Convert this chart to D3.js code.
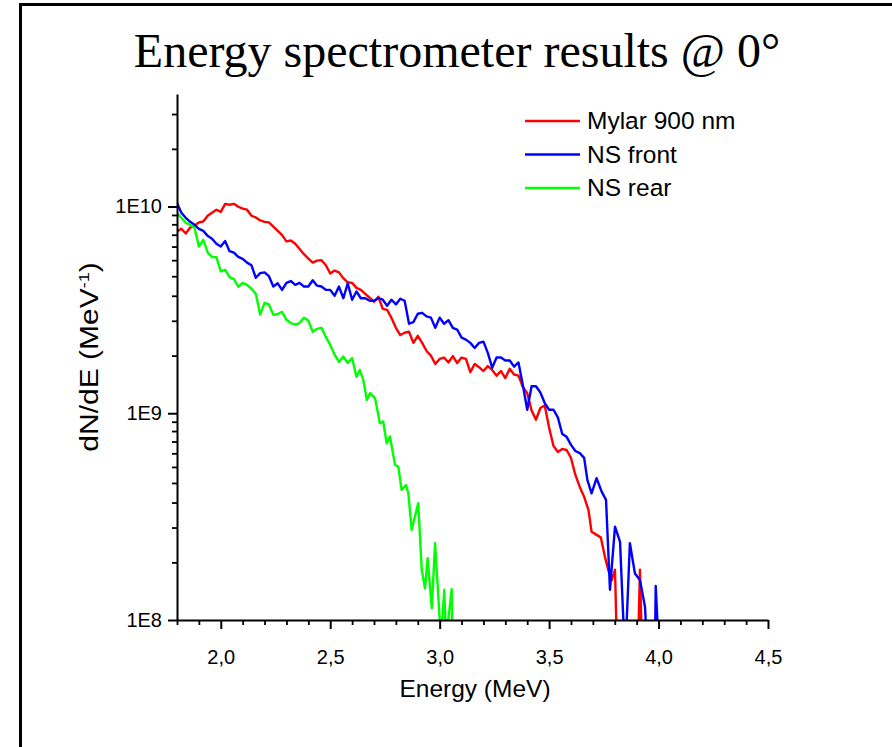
<!DOCTYPE html>
<html>
<head>
<meta charset="utf-8">
<script src="https://cdn.jsdelivr.net/npm/d3@7"></script>
<style>
  html, body { margin: 0; padding: 0; background: #fff; }
  #chart { width: 892px; height: 747px; }
  text { font-family: "Liberation Sans", Arial, sans-serif; fill: #000; }
</style>
</head>
<body>
<div id="chart"></div>
<script>
// [energy MeV, dN/dE in units of 1E9 MeV^-1]; 0.08 = below the 1E8 axis floor
const mylar = [
  [1.80, 7.57], [1.82, 7.80], [1.84, 7.40], [1.86, 7.91], [1.88, 8.07], [1.90, 8.38],
  [1.92, 8.46], [1.94, 9.02], [1.96, 9.32], [1.98, 9.64], [2.00, 9.42], [2.02, 10.3],
  [2.04, 10.2], [2.06, 10.3], [2.08, 9.97], [2.10, 9.76], [2.12, 9.65], [2.14, 9.02],
  [2.16, 8.85], [2.18, 8.56], [2.20, 8.43], [2.22, 8.38], [2.24, 8.00], [2.26, 7.63],
  [2.28, 7.27], [2.30, 6.78], [2.32, 6.85], [2.34, 6.60], [2.36, 6.23], [2.38, 5.88],
  [2.40, 5.60], [2.42, 5.35], [2.44, 5.47], [2.46, 5.50], [2.48, 5.20], [2.50, 4.74],
  [2.52, 4.90], [2.54, 4.80], [2.56, 4.50], [2.58, 4.30], [2.60, 4.27], [2.62, 4.04],
  [2.64, 3.95], [2.66, 3.78], [2.68, 3.62], [2.70, 3.46], [2.72, 3.66], [2.74, 3.20],
  [2.76, 3.16], [2.78, 2.89], [2.80, 2.59], [2.82, 2.39], [2.84, 2.45], [2.86, 2.48],
  [2.88, 2.19], [2.90, 2.37], [2.92, 2.19], [2.94, 2.00], [2.96, 1.90], [2.98, 1.73],
  [3.00, 1.83], [3.02, 1.86], [3.04, 1.76], [3.06, 1.89], [3.08, 1.75], [3.10, 1.86],
  [3.12, 1.83], [3.14, 1.58], [3.16, 1.73], [3.18, 1.67], [3.20, 1.60], [3.22, 1.69],
  [3.24, 1.62], [3.26, 1.52], [3.28, 1.60], [3.30, 1.48], [3.32, 1.64], [3.34, 1.54],
  [3.36, 1.52], [3.38, 1.34], [3.40, 1.25], [3.42, 1.03], [3.44, 0.93], [3.46, 1.06],
  [3.48, 1.09], [3.50, 0.85], [3.52, 0.695], [3.54, 0.65], [3.56, 0.672], [3.58, 0.664],
  [3.60, 0.608], [3.62, 0.503], [3.64, 0.44], [3.66, 0.394], [3.68, 0.34], [3.694, 0.267],
  [3.717, 0.258], [3.736, 0.251], [3.755, 0.202], [3.770, 0.175], [3.786, 0.156],
  [3.801, 0.175], [3.809, 0.08], [3.907, 0.08], [3.915, 0.175], [3.923, 0.08]
];

const nsFront = [
  [1.80, 10.4], [1.82, 9.32], [1.84, 8.82], [1.86, 8.43], [1.88, 8.15], [1.90, 7.80],
  [1.92, 7.62], [1.94, 7.21], [1.96, 6.98], [1.98, 6.60], [2.00, 6.40], [2.02, 6.80],
  [2.04, 6.08], [2.06, 5.98], [2.08, 5.70], [2.10, 5.58], [2.12, 5.35], [2.14, 5.20],
  [2.16, 4.52], [2.18, 4.76], [2.20, 4.80], [2.22, 4.60], [2.24, 4.10], [2.26, 4.25],
  [2.28, 3.95], [2.30, 4.27], [2.32, 4.36], [2.34, 4.18], [2.36, 4.27], [2.38, 4.10],
  [2.40, 4.10], [2.42, 4.40], [2.44, 4.14], [2.46, 4.10], [2.48, 3.95], [2.50, 3.95],
  [2.52, 3.70], [2.54, 4.10], [2.56, 3.60], [2.58, 4.25], [2.60, 3.54], [2.62, 3.88],
  [2.64, 3.60], [2.66, 3.60], [2.68, 3.50], [2.70, 3.50], [2.72, 3.60], [2.74, 3.54],
  [2.76, 3.31], [2.78, 3.54], [2.80, 3.36], [2.82, 3.58], [2.84, 3.50], [2.86, 2.71],
  [2.88, 2.76], [2.90, 3.03], [2.92, 3.06], [2.94, 2.94], [2.96, 2.90], [2.98, 2.59],
  [3.00, 2.90], [3.02, 2.71], [3.04, 2.82], [3.06, 2.59], [3.08, 2.54], [3.10, 2.32],
  [3.12, 2.27], [3.14, 2.19], [3.16, 2.07], [3.18, 2.19], [3.20, 2.22], [3.22, 1.96],
  [3.24, 1.66], [3.26, 1.86], [3.28, 1.86], [3.30, 1.80], [3.32, 1.80], [3.34, 1.68],
  [3.36, 1.76], [3.38, 1.37], [3.40, 1.04], [3.42, 1.35], [3.44, 1.35], [3.46, 1.26],
  [3.48, 1.12], [3.50, 1.04], [3.52, 1.04], [3.54, 0.955], [3.56, 0.794], [3.58, 0.769],
  [3.60, 0.703], [3.62, 0.657], [3.64, 0.641], [3.66, 0.608], [3.675, 0.475], [3.694, 0.41],
  [3.717, 0.485], [3.740, 0.418], [3.760, 0.381], [3.778, 0.14], [3.801, 0.283],
  [3.824, 0.239], [3.843, 0.08], [3.851, 0.08], [3.869, 0.235], [3.892, 0.168],
  [3.915, 0.156], [3.938, 0.116], [3.946, 0.08], [3.984, 0.08], [3.987, 0.146], [3.999, 0.08]
];

const nsRear = [
  [1.80, 9.29], [1.82, 8.82], [1.84, 8.34], [1.86, 8.15], [1.88, 7.89], [1.90, 6.40],
  [1.92, 6.90], [1.94, 6.00], [1.96, 5.70], [1.98, 5.69], [2.00, 4.85], [2.02, 4.94],
  [2.04, 4.55], [2.06, 4.45], [2.08, 4.09], [2.10, 4.27], [2.12, 4.18], [2.14, 4.00],
  [2.16, 3.78], [2.18, 3.00], [2.20, 3.42], [2.22, 3.36], [2.24, 2.99], [2.26, 3.02],
  [2.28, 3.09], [2.30, 2.83], [2.32, 2.73], [2.34, 2.68], [2.36, 2.73], [2.38, 2.90],
  [2.40, 2.80], [2.42, 2.48], [2.44, 2.56], [2.46, 2.59], [2.48, 2.34], [2.50, 2.14],
  [2.52, 1.92], [2.54, 1.77], [2.56, 1.88], [2.58, 1.75], [2.60, 1.85], [2.62, 1.50],
  [2.635, 1.62], [2.651, 1.45], [2.667, 1.16], [2.682, 1.25], [2.705, 1.18], [2.727, 0.895],
  [2.742, 0.912], [2.758, 0.716], [2.773, 0.771], [2.796, 0.562], [2.811, 0.552],
  [2.826, 0.426], [2.846, 0.45], [2.857, 0.41], [2.872, 0.273], [2.902, 0.367],
  [2.918, 0.175], [2.933, 0.142], [2.945, 0.199], [2.964, 0.114], [2.979, 0.235],
  [3.006, 0.08], [3.021, 0.14], [3.029, 0.08], [3.055, 0.141], [3.058, 0.08]
];

const seriesNames = ['Mylar 900 nm', 'NS front', 'NS rear'];
const seriesColors = ['#ff0000', '#0000ff', '#00ff00'];

const xMajorTicks = [2.0, 2.5, 3.0, 3.5, 4.0, 4.5];
const xMinorTicks = [1.8, 1.9, 2.1, 2.2, 2.3, 2.4, 2.6, 2.7, 2.8, 2.9, 3.1, 3.2, 3.3, 3.4,
  3.6, 3.7, 3.8, 3.9, 4.1, 4.2, 4.3, 4.4];
const yMajorTicks = [1e8, 1e9, 1e10];
const yTickLabels = ['1E8', '1E9', '1E10'];
// Origin-style minor ticks: linear steps inside each decade
const yMinorTicks = [1.9e8, 2.8e8, 3.7e8, 4.6e8, 5.5e8, 6.4e8, 7.3e8, 8.2e8, 9.1e8,
  1.9e9, 2.8e9, 3.7e9, 4.6e9, 5.5e9, 6.4e9, 7.3e9, 8.2e9, 9.1e9, 1.9e10, 2.8e10];

function renderChart(containerSelector) {
  const width = 892, height = 747;
  const svg = d3.select(containerSelector).append('svg')
    .attr('width', width).attr('height', height);

  svg.append('rect').attr('width', width).attr('height', height).attr('fill', '#fff');

  // frame (left + top edges visible)
  svg.append('path')
    .attr('d', `M20.5,${height} V4.5 H${width}`)
    .attr('fill', 'none').attr('stroke', '#000').attr('stroke-width', 3);

  const x = d3.scaleLinear().domain([1.8, 4.5]).range([177, 768]);
  const y = d3.scaleLog().domain([1e8, 3.5e10]).range([620, 94]);

  svg.append('text')
    .attr('x', 457).attr('y', 67)
    .attr('text-anchor', 'middle')
    .style('font-family', '"Liberation Serif", "Times New Roman", serif')
    .style('font-size', '48px')
    .text('Energy spectrometer results @ 0°');

  svg.append('clipPath').attr('id', 'plot-clip')
    .append('rect').attr('x', 177).attr('y', 94).attr('width', 591).attr('height', 526);

  const line = d3.line().x(d => x(d[0])).y(d => y(d[1] * 1e9));
  const plot = svg.append('g').attr('clip-path', 'url(#plot-clip)');
  [mylar, nsFront, nsRear].forEach((s, i) => {
    plot.append('path')
      .datum(s)
      .attr('d', line)
      .attr('fill', 'none')
      .attr('stroke', seriesColors[i])
      .attr('stroke-width', 2.4)
      .attr('stroke-linejoin', 'round');
  });

  // axes
  const xMinor = svg.append('g').attr('transform', 'translate(0,620)')
    .call(d3.axisBottom(x).tickValues(xMinorTicks).tickFormat('').tickSize(5).tickSizeOuter(0));
  const xAxis = svg.append('g').attr('transform', 'translate(0,620)')
    .call(d3.axisBottom(x).tickValues(xMajorTicks)
      .tickFormat(d => d.toFixed(1).replace('.', ','))
      .tickSize(9).tickSizeOuter(0).tickPadding(21));
  const yMinor = svg.append('g').attr('transform', 'translate(177,0)')
    .call(d3.axisLeft(y).tickValues(yMinorTicks).tickFormat('').tickSize(5).tickSizeOuter(0));
  const yAxis = svg.append('g').attr('transform', 'translate(177,0)')
    .call(d3.axisLeft(y).tickValues(yMajorTicks)
      .tickFormat((d, i) => yTickLabels[i])
      .tickSize(9).tickSizeOuter(0).tickPadding(6));

  [xMinor, yMinor].forEach(g => {
    g.select('.domain').remove();
    g.selectAll('.tick line').attr('stroke', '#000').attr('stroke-width', 1.8);
  });
  [xAxis, yAxis].forEach(g => {
    g.select('.domain').attr('stroke', '#000').attr('stroke-width', 2);
    g.selectAll('.tick line').attr('stroke', '#000').attr('stroke-width', 2);
    g.selectAll('.tick text')
      .style('font-family', '"Liberation Sans", Arial, sans-serif')
      .style('font-size', '20px').attr('fill', '#000');
  });

  svg.append('text')
    .attr('x', 475).attr('y', 697)
    .attr('text-anchor', 'middle')
    .style('font-size', '24.5px')
    .text('Energy (MeV)');

  // glyphs are a bit narrower across the page than along the text
  const yLabel = svg.append('text')
    .attr('transform', 'translate(98,357) rotate(-90) scale(1,0.85)')
    .attr('text-anchor', 'middle')
    .style('font-size', '30px');
  yLabel.append('tspan').text('dN/dE (MeV');
  yLabel.append('tspan').attr('dy', -11).style('font-size', '18px').text('-1');
  yLabel.append('tspan').attr('dy', 11).text(')');

  // legend
  const legend = svg.append('g');
  seriesNames.forEach((name, i) => {
    const ly = 121 + i * 33.5;
    legend.append('line')
      .attr('x1', 525).attr('x2', 580).attr('y1', ly).attr('y2', ly)
      .attr('stroke', seriesColors[i]).attr('stroke-width', 2.4);
    legend.append('text')
      .attr('x', 587).attr('y', ly + 8)
      .style('font-size', '24.5px')
      .text(name);
  });
}

renderChart('#chart');
</script>
</body>
</html>
